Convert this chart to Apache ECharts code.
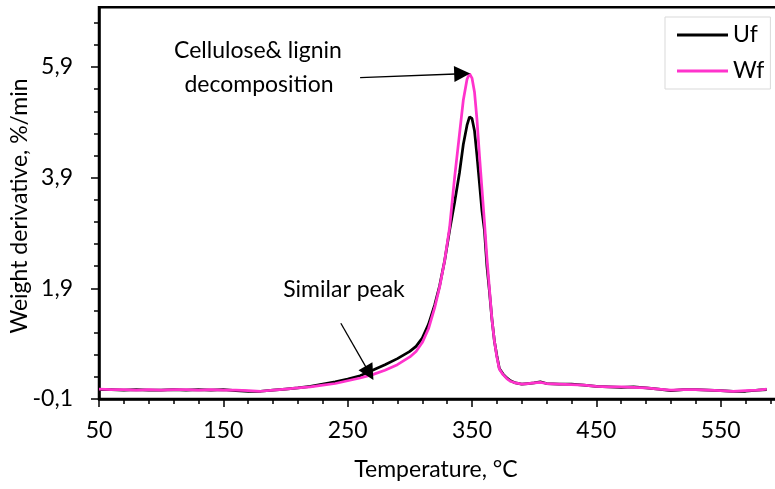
<!DOCTYPE html>
<html><head><meta charset="utf-8">
<script src="https://cdn.jsdelivr.net/npm/echarts@6/dist/echarts.min.js"></script>
<style>html,body{margin:0;padding:0;background:#fff}#c{width:775px;height:489px}</style>
</head><body><div id="c"></div>
<script>
const temperature = [50,60,70,80,90,100,110,120,130,140,150,160,170,180,190,200,210,220,230,240,250,260,270,280,290,300,305,310,315,320,324,328,332,336,340,343,346,348,350,352,354,356,358,360,362,364,366,368,370,372,375,378,381,385,390,395,400,405,410,420,430,440,450,460,470,480,490,500,510,520,530,540,550,560,570,580,587];
const ufValues = [0.07,0.07,0.06,0.07,0.06,0.06,0.07,0.06,0.07,0.06,0.07,0.05,0.04,0.04,0.06,0.08,0.10,0.13,0.17,0.21,0.26,0.32,0.42,0.52,0.63,0.76,0.85,1.00,1.25,1.60,1.95,2.40,2.95,3.45,4.00,4.50,4.85,5.00,4.97,4.75,4.30,3.80,3.30,2.95,2.30,1.85,1.35,0.95,0.68,0.45,0.35,0.28,0.23,0.19,0.17,0.18,0.19,0.21,0.18,0.17,0.17,0.15,0.13,0.12,0.11,0.12,0.10,0.08,0.05,0.07,0.07,0.06,0.05,0.04,0.04,0.06,0.07];
const wfValues = [0.08,0.07,0.07,0.06,0.07,0.06,0.07,0.07,0.06,0.07,0.06,0.06,0.05,0.04,0.06,0.08,0.10,0.12,0.15,0.18,0.23,0.28,0.34,0.42,0.52,0.66,0.76,0.92,1.17,1.55,1.93,2.40,3.00,3.90,4.70,5.30,5.68,5.78,5.70,5.45,4.95,4.30,3.70,3.10,2.45,1.90,1.35,0.95,0.66,0.44,0.34,0.27,0.22,0.19,0.17,0.18,0.19,0.20,0.18,0.17,0.16,0.15,0.13,0.12,0.12,0.11,0.10,0.08,0.06,0.07,0.07,0.06,0.05,0.04,0.05,0.06,0.08];
const seriesNames = ['Uf','Wf'];
const yTickValues = [-0.1,1.9,3.9,5.9];
const yMinorTickValues = [0.3,0.7,1.1,1.5,2.3,2.7,3.1,3.5,4.3,4.7,5.1,5.5,6.3,6.7];
const xAxisTitle = 'Temperature, °C';
const yAxisTitle = 'Weight derivative, %/min';
const arrowPeak = [[260,5.71],[342.1,5.779]];
const arrowShoulder = [[244.5,1.27],[267.5,0.368]];

const FONT = 'Lato';
const chart = echarts.init(document.getElementById('c'), null, {renderer:'canvas'});
const fmt = v => (Math.round(v*10)/10).toFixed(1).replace('.', ',');
chart.setOption({
  animation:false,
  backgroundColor:'#fff',
  grid:{left:99, top:7.3, width:746, height:391.7, show:true, borderColor:'#000', borderWidth:2.5, backgroundColor:'transparent', containLabel:false, outerBoundsMode:'none'},
  legend:{orient:'vertical', left:665, top:17, padding:[5,6,5,12], itemWidth:51, itemHeight:3, itemGap:10, icon:'rect',
    borderColor:'#d9d9d9', borderWidth:1, backgroundColor:'#fff',
    textStyle:{fontFamily:FONT, fontSize:23, color:'#000', lineHeight:26}, data:seriesNames},
  xAxis:{type:'value', min:50, max:650, interval:100,
    axisLine:{show:true, onZero:false, lineStyle:{color:'#000', width:2.5}},
    axisTick:{show:true, length:8, lineStyle:{color:'#000', width:1.5}},
    minorTick:{show:true, splitNumber:5, length:5, lineStyle:{color:'#000', width:1.5}},
    axisLabel:{fontFamily:FONT, fontSize:23, color:'#000', margin:20, showMaxLabel:false},
    splitLine:{show:false}, minorSplitLine:{show:false}},
  yAxis:[{type:'value', min:-0.1, max:6.98, interval:2,
    axisLine:{show:true, onZero:false, lineStyle:{color:'#000', width:2.5}},
    axisTick:{show:true, length:8, customValues:yTickValues, lineStyle:{color:'#000', width:1.5}},
    axisLabel:{fontFamily:FONT, fontSize:23, color:'#000', margin:26, formatter:fmt, customValues:yTickValues, hideOverlap:false},
    splitLine:{show:false}},
   {type:'value', min:-0.1, max:6.98, position:'left',
    axisLine:{show:false}, axisLabel:{show:false}, splitLine:{show:false},
    axisTick:{show:true, length:5, customValues:yMinorTickValues, lineStyle:{color:'#000', width:1.5}}}],
  series:[
    {name:seriesNames[0], type:'line', symbol:'none', data:temperature.map((t,i)=>[t, ufValues[i]]),
     lineStyle:{color:'#000', width:2.75}, itemStyle:{color:'#000'}},
    {name:seriesNames[1], type:'line', symbol:'none', data:temperature.map((t,i)=>[t, wfValues[i]]),
     lineStyle:{color:'#ff33cc', width:2.75}, itemStyle:{color:'#ff33cc'},
     markLine:{silent:true, symbol:['none','triangle'], symbolSize:16, animation:false,
       lineStyle:{color:'#000', width:1.3, type:'solid'}, itemStyle:{color:'#000'}, label:{show:false}, emphasis:{disabled:true},
       data:[[{coord:arrowPeak[0]},{coord:arrowPeak[1]}],[{coord:arrowShoulder[0]},{coord:arrowShoulder[1]}]]}}
  ],
  graphic:[
    {type:'text', x:258, y:51, style:{text:'Cellulose& lignin', font:'23px Lato', fill:'#000', align:'center', verticalAlign:'middle'}},
    {type:'text', x:259, y:84.5, style:{text:'decomposition', font:'23px Lato', fill:'#000', align:'center', verticalAlign:'middle'}},
    {type:'text', x:344, y:290, style:{text:'Similar peak', font:'23px Lato', fill:'#000', align:'center', verticalAlign:'middle'}},
    {type:'text', x:436, y:470, style:{text:xAxisTitle, font:'23px Lato', fill:'#000', align:'center', verticalAlign:'middle'}},
    {type:'text', x:20, y:206, rotation:Math.PI/2, style:{text:yAxisTitle, font:'23px Lato', fill:'#000', align:'center', verticalAlign:'middle'}}
  ]
});
</script></body></html>
